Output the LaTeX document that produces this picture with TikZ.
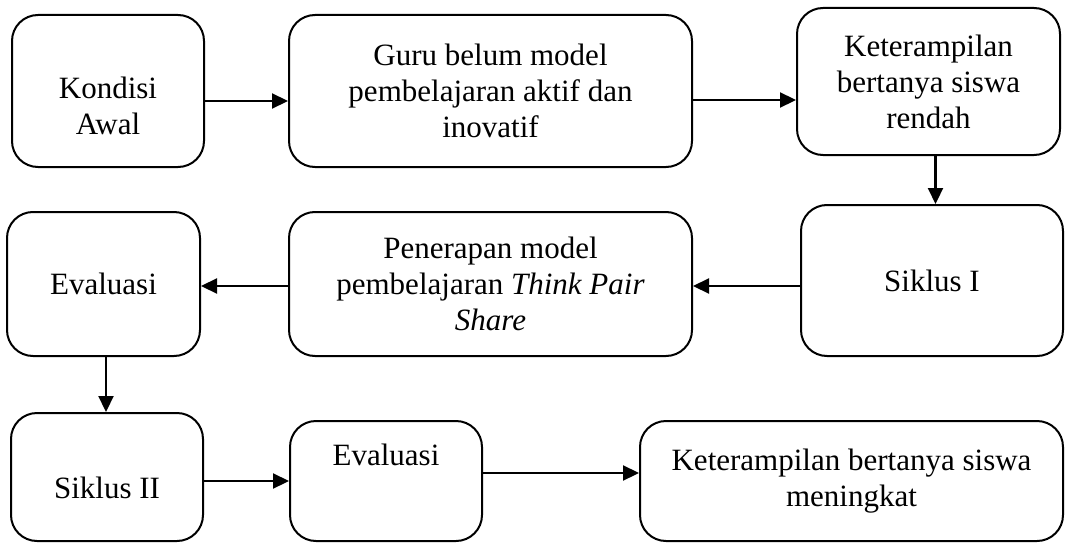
\documentclass[tikz,border=0pt]{standalone}
\usepackage{fontspec}
\setmainfont{Liberation Serif}
\usepackage{tikz}
\usetikzlibrary{arrows.meta}
\tikzset{
  flowbox/.style = {rectangle, draw=black, line width=2pt, rounded corners=26pt, align=center, inner sep=0pt, font=\fontsize{31}{36}\selectfont},
  flowarr/.style = {line width=2.2pt, -{Triangle[length=16pt,width=15pt]}}
}
\begin{document}
\begin{tikzpicture}[x=1pt, y=-1pt]
    \useasboundingbox (0,0) rectangle (1065,543);
    % baris atas
    \node[flowbox, minimum width=192pt, minimum height=152pt] (kondisi) at (108,91) {\rule{0pt}{51pt}Kondisi\\Awal};
    \node[flowbox, minimum width=403pt, minimum height=152pt] (guru) at (490.5,91) {Guru belum model\\pembelajaran aktif dan\\inovatif};
    \node[flowbox, minimum width=263pt, minimum height=147pt] (rendah) at (928.5,81.5) {Keterampilan\\bertanya siswa\\rendah};
    % baris tengah
    \node[flowbox, minimum width=193pt, minimum height=144pt] (evalsatu) at (103.5,284) {Evaluasi};
    \node[flowbox, minimum width=403pt, minimum height=144pt] (penerapan) at (490.5,284) {Penerapan model\\pembelajaran \textit{Think Pair}\\\textit{Share}};
    \node[flowbox, minimum width=262pt, minimum height=151pt] (siklussatu) at (932,280.5) {Siklus I};
    % baris bawah
    \node[flowbox, minimum width=192pt, minimum height=128pt] (siklusdua) at (107,477) {\rule{0pt}{43pt}Siklus II};
    \node[flowbox, minimum width=192pt, minimum height=120pt] (evaldua) at (386,481) {\rule[-52pt]{0pt}{1pt}Evaluasi};
    \node[flowbox, minimum width=423pt, minimum height=120pt] (meningkat) at (851.5,481) {Keterampilan bertanya siswa\\meningkat};

    \draw[flowarr] ([yshift=-10pt]kondisi.east) -- ([yshift=-10pt]kondisi.east -| guru.west);
    \draw[flowarr] ([yshift=-9pt]guru.east) -- ([yshift=-9pt]guru.east -| rendah.west);
    \draw[flowarr] ([xshift=7pt]rendah.south) -- ([xshift=7pt]rendah.south |- siklussatu.north);
    \draw[flowarr] ([yshift=-5.5pt]siklussatu.west) -- ([yshift=-5.5pt]siklussatu.west -| penerapan.east);
    \draw[flowarr] ([yshift=-2pt]penerapan.west) -- ([yshift=-2pt]penerapan.west -| evalsatu.east);
    \draw[flowarr] ([xshift=2.5pt]evalsatu.south) -- ([xshift=2.5pt]evalsatu.south |- siklusdua.north);
    \draw[flowarr] ([yshift=-4pt]siklusdua.east) -- ([yshift=-4pt]siklusdua.east -| evaldua.west);
    \draw[flowarr] ([yshift=8pt]evaldua.east) -- ([yshift=8pt]evaldua.east -| meningkat.west);
\end{tikzpicture}
\end{document}
